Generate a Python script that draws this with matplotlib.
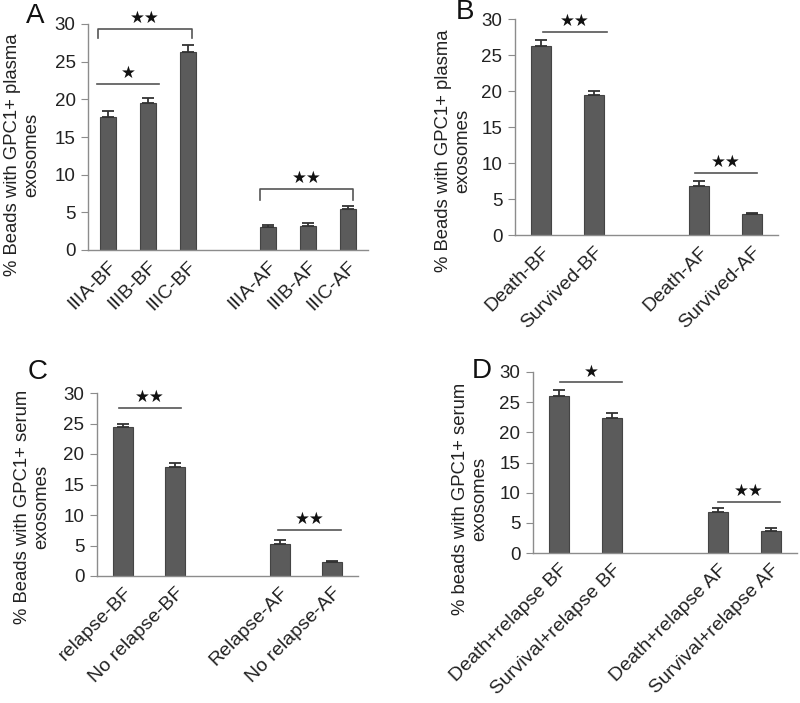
import matplotlib.pyplot as plt

plt.rcParams['font.family'] = ['Liberation Sans', 'DejaVu Sans']

# panel A
a_labels = ['IIIA-BF', 'IIIB-BF', 'IIIC-BF', 'IIIA-AF', 'IIIB-AF', 'IIIC-AF']
a_pos = [0, 1, 2, 4, 5, 6]
a_vals = [17.6, 19.5, 26.3, 3.0, 3.2, 5.4]
a_err = [0.8, 0.65, 0.9, 0.3, 0.45, 0.45]

# panel B
b_labels = ['Death-BF', 'Survived-BF', 'Death-AF', 'Survived-AF']
b_pos = [0, 1, 3, 4]
b_vals = [26.2, 19.4, 6.85, 2.9]
b_err = [0.9, 0.6, 0.65, 0.15]

# panel C
c_labels = ['relapse-BF', 'No relapse-BF', 'Relapse-AF', 'No relapse-AF']
c_pos = [0, 1, 3, 4]
c_vals = [24.4, 17.95, 5.25, 2.35]
c_err = [0.6, 0.6, 0.65, 0.15]

# panel D
d_labels = ['Death+relapse BF', 'Survival+relapse BF', 'Death+relapse AF', 'Survival+relapse AF']
d_pos = [0, 1, 3, 4]
d_vals = [25.95, 22.35, 6.85, 3.65]
d_err = [1.1, 0.85, 0.55, 0.45]

# significance marks: x1, x2, y, drop (0 = plain line), text
a_sig = [(-0.28, 1.28, 22.0, 0, '★'), (-0.25, 2.1, 29.3, 1.2, '★★'), (3.8, 6.12, 8.1, 1.4, '★★')]
b_sig = [(0.03, 1.24, 28.2, 0, '★★'), (2.92, 4.1, 8.55, 0, '★★')]
c_sig = [(-0.08, 1.11, 27.5, 0, '★★'), (2.97, 4.17, 7.55, 0, '★★')]
d_sig = [(0.01, 1.19, 28.3, 0, '★'), (3.0, 4.18, 8.45, 0, '★★')]

BAR = '#5b5b5b'
AXIS = '#8c8c8c'
W, H = 800, 703

fig = plt.figure(figsize=(8, 7.03), dpi=100)


def make_axes(l, t, r, b):
    return fig.add_axes([l / W, 1 - b / H, (r - l) / W, (b - t) / H])


def draw(ax, pos, vals, err, labels, sig, ylabel, lab_xy, width, nslots, fs_x):
    ax.bar(pos, vals, width=width, color=BAR, edgecolor='#444444', linewidth=0.8, zorder=2)
    ax.errorbar(pos, vals, yerr=[[0] * len(vals), err], fmt='none', ecolor='#333333',
                elinewidth=1.3, capsize=4, capthick=1.3, zorder=3)
    ax.set_xlim(-0.5, nslots - 0.5)
    ax.set_ylim(0, 30)
    ax.set_yticks([0, 5, 10, 15, 20, 25, 30])
    ax.set_xticks(pos)
    ax.set_xticklabels(labels, rotation=45, ha='right', rotation_mode='anchor', fontsize=fs_x, color='#222222')
    ax.tick_params(axis='x', length=0, pad=6)
    ax.tick_params(axis='y', direction='out', length=5, color=AXIS, labelsize=13.5, labelcolor='#222222', pad=4)
    for s in ['top', 'right']:
        ax.spines[s].set_visible(False)
    for s in ['left', 'bottom']:
        ax.spines[s].set_color(AXIS)
        ax.spines[s].set_linewidth(1.0)
    ax.text(lab_xy[0], lab_xy[1], ylabel, transform=ax.transAxes, rotation=90, ha='center', va='center',
            multialignment='center', fontsize=13.3, color='#222222', linespacing=1.15)
    for x1, x2, y, drop, txt in sig:
        if drop > 0:
            ax.plot([x1, x1, x2, x2], [y - drop, y, y, y - drop], color='#555555', lw=1.2, clip_on=False)
        else:
            ax.plot([x1, x2], [y, y], color='#555555', lw=1.2, clip_on=False)
        ax.text((x1 + x2) / 2, y + 0.3, txt, ha='center', va='bottom', fontsize=12,
                family='DejaVu Sans', color='#111111', clip_on=False)


axA = make_axes(88, 24, 368, 250)
draw(axA, a_pos, a_vals, a_err, a_labels, a_sig, '% Beads with GPC1+ plasma\nexosomes', (-0.236, 0.42), 0.4, 7, 14)

axB = make_axes(515, 19, 778, 235)
draw(axB, b_pos, b_vals, b_err, b_labels, b_sig, '% Beads with GPC1+ plasma\nexosomes', (-0.236, 0.39), 0.38, 5, 14)

axC = make_axes(97, 393, 358, 576)
draw(axC, c_pos, c_vals, c_err, c_labels, c_sig, '% Beads with GPC1+ serum\nexosomes', (-0.249, 0.375), 0.38, 5, 14)

axD = make_axes(533, 372, 797, 553)
draw(axD, d_pos, d_vals, d_err, d_labels, d_sig, '% beads with GPC1+ serum\nexosomes', (-0.239, 0.30), 0.38, 5, 14)

for txt, x, y in [('A', 35, 16), ('B', 465, 12), ('C', 38, 372), ('D', 482, 371)]:
    fig.text(x / W, 1 - y / H, txt, ha='center', va='center', fontsize=20, color='#111111')

fig.savefig('out.png', dpi=100)
